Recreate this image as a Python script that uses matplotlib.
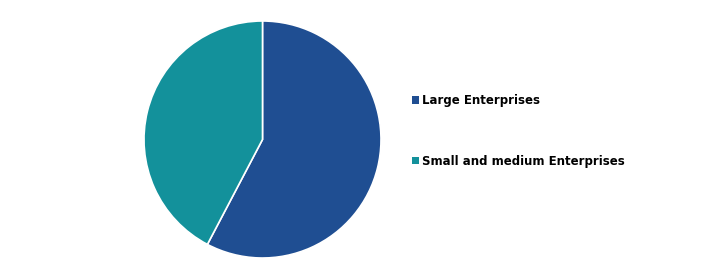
import matplotlib.pyplot as plt
from matplotlib.patches import Patch

labels = ['Large Enterprises', 'Small and medium Enterprises']
shares = [57.7, 42.3]
colors = ['#1F4E92', '#13919B']

fig = plt.figure(figsize=(7.08, 2.69), dpi=100)
ax = fig.add_axes([144 / 708, 11 / 269, 237 / 708, 237 / 269])
ax.pie(shares, colors=colors, startangle=90, counterclock=False,
       wedgeprops={'edgecolor': 'white', 'linewidth': 1.2})
ax.set_xlim(-1, 1)
ax.set_ylim(-1, 1)
ax.set_aspect('equal')

handles = [Patch(facecolor=c, edgecolor='none') for c in colors]
fig.legend(handles, labels, loc='center left', bbox_to_anchor=(401 / 708, 138 / 269),
           frameon=False, handlelength=0.6, handleheight=0.6, handletextpad=0.3,
           labelspacing=4.05, prop={'family': 'DejaVu Sans', 'weight': 'bold', 'size': 8.5})

fig.savefig('out.png', dpi=100)
